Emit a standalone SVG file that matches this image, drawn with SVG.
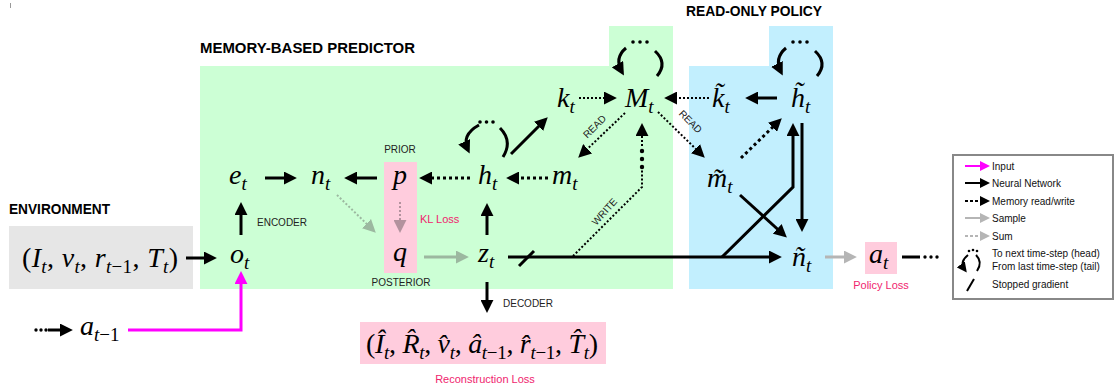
<svg xmlns="http://www.w3.org/2000/svg" width="1120" height="390" viewBox="0 0 1120 390">
<style>
.m{font-family:"Liberation Serif",serif;font-style:italic;font-size:28px;fill:#000}
.s{font-size:19px}
.u{font-style:normal}
.lbl{font-family:"Liberation Sans",Arial,sans-serif;font-size:10px;fill:#222}
.ttl{font-family:"Liberation Sans",Arial,sans-serif;font-size:15px;font-weight:bold;fill:#000}
.loss{font-family:"Liberation Sans",Arial,sans-serif;font-size:11px;fill:#f0246e}
.leg{font-family:"Liberation Sans",Arial,sans-serif;font-size:10px;fill:#111}
.nn{fill:none;stroke:#000;stroke-width:3}
.dot{fill:none;stroke:#000;stroke-width:2;stroke-dasharray:2 2}
.mem{fill:none;stroke:#000;stroke-width:3;stroke-dasharray:3 3}
.loop{fill:none;stroke:#000;stroke-width:3}
</style>
<defs>
<marker id="ah" viewBox="0 0 10 10" refX="7" refY="5" markerWidth="13" markerHeight="13" markerUnits="userSpaceOnUse" orient="auto"><path d="M0,0 L10,5 L0,10 z" fill="#000"/></marker>
<marker id="ahm" viewBox="0 0 10 10" refX="7" refY="5" markerWidth="13" markerHeight="13" markerUnits="userSpaceOnUse" orient="auto"><path d="M0,0 L10,5 L0,10 z" fill="#ff00ff"/></marker>
<marker id="ahg" viewBox="0 0 10 10" refX="7" refY="5" markerWidth="13" markerHeight="13" markerUnits="userSpaceOnUse" orient="auto"><path d="M0,0 L10,5 L0,10 z" fill="#b5b5b5"/></marker>
<marker id="ahgg" viewBox="0 0 10 10" refX="7" refY="5" markerWidth="13" markerHeight="13" markerUnits="userSpaceOnUse" orient="auto"><path d="M0,0 L10,5 L0,10 z" fill="#9cb8a0"/></marker>
<marker id="ahp" viewBox="0 0 10 10" refX="7" refY="5" markerWidth="13" markerHeight="13" markerUnits="userSpaceOnUse" orient="auto"><path d="M0,0 L10,5 L0,10 z" fill="#b3929e"/></marker>
<marker id="lk" viewBox="0 0 10 10" refX="7" refY="5" markerWidth="10" markerHeight="10" markerUnits="userSpaceOnUse" orient="auto"><path d="M0,0 L10,5 L0,10 z" fill="#000"/></marker>
<marker id="lm" viewBox="0 0 10 10" refX="7" refY="5" markerWidth="10" markerHeight="10" markerUnits="userSpaceOnUse" orient="auto"><path d="M0,0 L10,5 L0,10 z" fill="#ff00ff"/></marker>
<marker id="lg" viewBox="0 0 10 10" refX="7" refY="5" markerWidth="10" markerHeight="10" markerUnits="userSpaceOnUse" orient="auto"><path d="M0,0 L10,5 L0,10 z" fill="#b5b5b5"/></marker>
</defs>
<rect width="1120" height="390" fill="#fff"/>
<line x1="10.5" y1="3" x2="10.5" y2="8" stroke="#999" stroke-width="1"/>

<!-- regions -->
<g id="regions">
<path d="M200,66 H609 V26 H673 V289 H200 Z" fill="#ccffd5"/>
<path d="M689,66 H769 V26 H833 V289 H689 Z" fill="#c2effe"/>
<rect x="9" y="226" width="184" height="63" fill="#e6e6e6"/>
<rect x="384" y="162" width="33" height="111" fill="#ffccdd"/>
<rect x="360" y="322" width="246" height="42" fill="#ffccdd"/>
<rect x="865" y="242" width="32" height="32" fill="#ffccdd"/>
<text class="ttl" x="200" y="53" textLength="215" lengthAdjust="spacingAndGlyphs">MEMORY-BASED PREDICTOR</text>
<text class="ttl" x="686" y="16" textLength="136" lengthAdjust="spacingAndGlyphs">READ-ONLY POLICY</text>
<text class="ttl" x="9" y="214" textLength="101" lengthAdjust="spacingAndGlyphs">ENVIRONMENT</text>
</g>

<!-- connectors -->
<g id="connectors">
<line class="nn" x1="186" y1="258" x2="213" y2="258" marker-end="url(#ah)"/>
<line class="nn" x1="241" y1="235" x2="241" y2="206" marker-end="url(#ah)"/>
<line class="nn" x1="265" y1="178" x2="293" y2="178" marker-end="url(#ah)"/>
<line class="nn" x1="377" y1="178" x2="348" y2="178" marker-end="url(#ah)"/>
<line class="mem" x1="470" y1="178" x2="423" y2="178" marker-end="url(#ah)"/>
<line class="mem" x1="548" y1="178" x2="510" y2="178" marker-end="url(#ah)"/>
<line class="nn" x1="487" y1="235" x2="487" y2="207" marker-end="url(#ah)"/>
<line class="nn" x1="511" y1="154" x2="545" y2="120" marker-end="url(#ah)"/>
<line class="dot" x1="579" y1="98" x2="613" y2="98" marker-end="url(#ah)"/>
<line class="dot" x1="709" y1="98" x2="668" y2="98" marker-end="url(#ah)"/>
<line class="nn" x1="777" y1="98" x2="749" y2="98" marker-end="url(#ah)"/>
<line class="dot" x1="625" y1="113" x2="581" y2="155" marker-end="url(#ah)"/>
<line class="dot" x1="658" y1="112" x2="702" y2="155" marker-end="url(#ah)"/>
<text class="lbl" font-size="9" transform="translate(597,129) rotate(-45)" text-anchor="middle">READ</text>
<text class="lbl" font-size="9" transform="translate(688,124) rotate(45)" text-anchor="middle">READ</text>
<!-- write -->
<polyline class="dot" points="573,256 642,187 642,170"/>
<circle cx="642" cy="167" r="2.2"/>
<circle cx="642" cy="159" r="2.2"/>
<circle cx="642" cy="151" r="2.2"/>
<line class="dot" x1="642" y1="146" x2="642" y2="127" marker-end="url(#ah)"/>
<text class="lbl" font-size="9" transform="translate(607,214) rotate(-48)" text-anchor="middle">WRITE</text>
<!-- z to n tilde -->
<line class="nn" x1="508" y1="257" x2="778" y2="257" marker-end="url(#ah)"/>
<line x1="519" y1="266" x2="534" y2="251" stroke="#000" stroke-width="3"/>
<polyline class="nn" points="722,257 793,187 793,127" marker-end="url(#ah)"/>
<line class="nn" x1="802" y1="123" x2="802" y2="228" marker-end="url(#ah)"/>
<line class="nn" x1="740" y1="195" x2="784" y2="235" marker-end="url(#ah)"/>
<line class="mem" x1="741" y1="158" x2="779" y2="121" marker-end="url(#ah)"/>
<line x1="825" y1="257" x2="853" y2="257" stroke="#b5b5b5" stroke-width="3" marker-end="url(#ahg)"/>
<line x1="902" y1="257" x2="920" y2="257" stroke="#000" stroke-width="3"/>
<circle cx="925" cy="257" r="1.7"/><circle cx="931" cy="257" r="1.7"/><circle cx="937" cy="257" r="1.7"/>
<line x1="337" y1="195" x2="373" y2="230" stroke="#9cb8a0" stroke-width="2" stroke-dasharray="2 2" marker-end="url(#ahgg)"/>
<line x1="400" y1="202" x2="400" y2="229" stroke="#b3929e" stroke-width="2" stroke-dasharray="2 2" marker-end="url(#ahp)"/>
<line x1="424" y1="257" x2="465" y2="257" stroke="#9cb8a0" stroke-width="3" marker-end="url(#ahgg)"/>
<line class="nn" x1="487" y1="282" x2="487" y2="309" marker-end="url(#ah)"/>
<!-- a_{t-1} -->
<circle cx="36" cy="330" r="1.7"/><circle cx="41" cy="330" r="1.7"/><circle cx="46" cy="330" r="1.7"/>
<line class="nn" x1="48" y1="330" x2="69" y2="330" marker-end="url(#ah)"/>
<polyline points="128,330 241,330 241,275" fill="none" stroke="#ff00ff" stroke-width="3" marker-end="url(#ahm)"/>
<!-- loops -->
<path class="loop" d="M479,125 Q461,135 468,150" marker-end="url(#ah)"/>
<path class="loop" d="M500,128 Q513,141 503,157"/>
<circle cx="480" cy="122" r="1.8"/><circle cx="486.5" cy="122" r="1.8"/><circle cx="493" cy="122" r="1.8"/>
<path class="loop" d="M626,48 Q614,58 622,72" marker-end="url(#ah)"/>
<path class="loop" d="M655,51 Q668,63 657,76"/>
<circle cx="633" cy="42" r="1.8"/><circle cx="640" cy="42" r="1.8"/><circle cx="647" cy="42" r="1.8"/>
<path class="loop" d="M786,48 Q774,58 781,72" marker-end="url(#ah)"/>
<path class="loop" d="M815,51 Q828,63 817,76"/>
<circle cx="793" cy="42" r="1.8"/><circle cx="800" cy="42" r="1.8"/><circle cx="807" cy="42" r="1.8"/>
</g>

<!-- nodes -->
<g id="node-env"><text class="m" x="22" y="267" textLength="156"><tspan class="u">(</tspan>I<tspan class="s" dy="6">t</tspan><tspan class="u" dy="-6">, </tspan>v<tspan class="s" dy="6">t</tspan><tspan class="u" dy="-6">, </tspan>r<tspan class="s" dy="6">t<tspan class="u">−1</tspan></tspan><tspan class="u" dy="-6">, </tspan>T<tspan class="s" dy="6">t</tspan><tspan class="u" dy="-6">)</tspan></text></g>
<g id="node-o"><text class="m" x="230" y="263">o<tspan class="s" dy="6">t</tspan></text></g>
<g id="node-e"><text class="m" x="229" y="184">e<tspan class="s" dy="6">t</tspan></text></g>
<g id="node-n"><text class="m" x="311" y="184">n<tspan class="s" dy="6">t</tspan></text></g>
<g id="node-p"><text class="m" x="400" y="184" text-anchor="middle">p</text><text class="lbl" x="400" y="153" text-anchor="middle">PRIOR</text></g>
<g id="node-q"><text class="m" x="400" y="261" text-anchor="middle">q</text><text class="lbl" x="401" y="286" text-anchor="middle">POSTERIOR</text></g>
<g id="node-h"><text class="m" x="478" y="184">h<tspan class="s" dy="6">t</tspan></text></g>
<g id="node-m"><text class="m" x="552" y="184">m<tspan class="s" dy="6">t</tspan></text></g>
<g id="node-z"><text class="m" x="478" y="262">z<tspan class="s" dy="6">t</tspan></text></g>
<g id="node-k"><text class="m" x="557" y="107">k<tspan class="s" dy="6">t</tspan></text></g>
<g id="node-M"><text class="m" x="625" y="107">M<tspan class="s" dy="6">t</tspan></text></g>
<g id="node-kt"><text class="m" x="712" y="107">k&#x303;<tspan class="s" dy="6">t</tspan></text></g>
<g id="node-ht"><text class="m" x="791" y="107">h&#x303;<tspan class="s" dy="6">t</tspan></text></g>
<g id="node-mt"><text class="m" x="707" y="187">m&#x303;<tspan class="s" dy="6">t</tspan></text></g>
<g id="node-nt"><text class="m" x="792" y="266">ñ<tspan class="s" dy="6">t</tspan></text></g>
<g id="node-a"><text class="m" x="869" y="263">a<tspan class="s" dy="6">t</tspan></text><text class="loss" x="881" y="289" text-anchor="middle">Policy Loss</text></g>
<g id="node-aprev"><text class="m" x="80" y="335">a<tspan class="s" dy="6">t<tspan class="u">−1</tspan></tspan></text></g>
<g id="node-recon"><text class="m" x="366" y="353" textLength="232"><tspan class="u">(</tspan>I&#x302;<tspan class="s" dy="6">t</tspan><tspan class="u" dy="-6">, </tspan>R&#x302;<tspan class="s" dy="6">t</tspan><tspan class="u" dy="-6">, </tspan>v&#x302;<tspan class="s" dy="6">t</tspan><tspan class="u" dy="-6">, </tspan>â<tspan class="s" dy="6">t<tspan class="u">−1</tspan></tspan><tspan class="u" dy="-6">, </tspan>r&#x302;<tspan class="s" dy="6">t<tspan class="u">−1</tspan></tspan><tspan class="u" dy="-6">, </tspan>T&#x302;<tspan class="s" dy="6">t</tspan><tspan class="u" dy="-6">)</tspan></text><text class="loss" x="485" y="383" text-anchor="middle">Reconstruction Loss</text></g>
<g id="labels">
<text class="lbl" x="257" y="226">ENCODER</text>
<text class="lbl" x="503" y="307">DECODER</text>
<text class="loss" x="420" y="223">KL Loss</text>
</g>

<!-- legend -->
<g id="legend">
<rect x="953" y="155" width="160" height="144" fill="#fff" stroke="#888" stroke-width="2"/>
<line x1="965" y1="166" x2="987" y2="166" stroke="#ff00ff" stroke-width="2" marker-end="url(#lm)"/>
<text class="leg" x="992" y="170">Input</text>
<line x1="965" y1="183" x2="987" y2="183" stroke="#000" stroke-width="2" marker-end="url(#lk)"/>
<text class="leg" x="992" y="187">Neural Network</text>
<line x1="965" y1="201" x2="987" y2="201" stroke="#000" stroke-width="2" stroke-dasharray="3 2" marker-end="url(#lk)"/>
<text class="leg" x="992" y="205">Memory read/write</text>
<line x1="965" y1="218" x2="987" y2="218" stroke="#b5b5b5" stroke-width="2" marker-end="url(#lg)"/>
<text class="leg" x="992" y="222">Sample</text>
<line x1="965" y1="236" x2="987" y2="236" stroke="#b5b5b5" stroke-width="2" stroke-dasharray="3 2" marker-end="url(#lg)"/>
<text class="leg" x="992" y="240">Sum</text>
<path d="M968,255 Q959,262 965,270" fill="none" stroke="#000" stroke-width="2" marker-end="url(#lk)"/>
<path d="M976,255 Q983,262 977,271" fill="none" stroke="#000" stroke-width="2"/>
<circle cx="969" cy="251" r="1.3"/><circle cx="973" cy="250" r="1.3"/><circle cx="977" cy="251" r="1.3"/>
<text class="leg" x="992" y="257">To next time-step (head)</text>
<text class="leg" x="992" y="270">From last time-step (tail)</text>
<line x1="967" y1="291" x2="974" y2="279" stroke="#000" stroke-width="2"/>
<text class="leg" x="992" y="288">Stopped gradient</text>
</g>
</svg>
